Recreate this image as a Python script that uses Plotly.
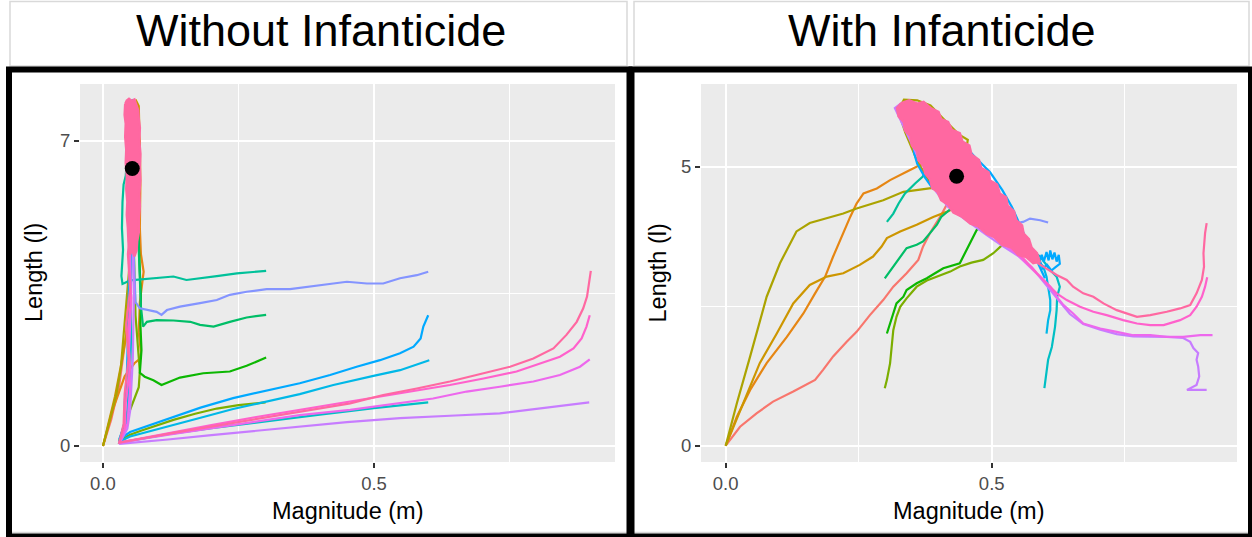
import plotly.graph_objects as go

W, H = 1252, 537

PANEL_TITLES = ["Without Infanticide", "With Infanticide"]
X_LABEL = "Magnitude (m)"
Y_LABEL = "Length (l)"

GROUP_COLORS = ["#F8766D", "#E68613", "#CD9600", "#ABA300", "#7CAE00", "#0CB702",
                "#00BE67", "#00C19A", "#00BFC4", "#00B8E7", "#00A9FF", "#8494FF",
                "#C77CFF", "#ED68ED", "#FF61CC", "#FF68A1"]

# ---------------- Without infanticide: trajectories (magnitude, length) ----------------
WO_01 = [(0, 0), (0.015, 0.6), (0.03, 1.4), (0.042, 2.5), (0.048, 3.6), (0.05, 4.6), (0.052, 5.8), (0.05, 7.0), (0.055, 7.8)]
WO_02 = [(0, 0), (0.02, 0.9), (0.04, 1.6), (0.058, 1.9), (0.068, 2.0), (0.07, 2.15), (0.066, 2.6), (0.068, 3.3),
         (0.072, 3.7), (0.075, 4.0), (0.07, 4.4), (0.068, 5.0), (0.069, 6.0), (0.068, 7.0), (0.063, 7.7)]
WO_03 = [(0, 0), (0.022, 1.13), (0.034, 1.9), (0.041, 2.43), (0.05, 3.05), (0.048, 3.6), (0.052, 4.4), (0.056, 5.5),
         (0.062, 6.5), (0.067, 7.3), (0.066, 7.8), (0.06, 7.95)]
WO_04 = [(0, 0), (0.012, 0.55), (0.025, 1.2), (0.033, 1.8), (0.038, 2.5), (0.042, 3.2), (0.046, 3.8), (0.052, 4.6),
         (0.058, 5.6), (0.062, 6.6), (0.064, 7.5)]
WO_05 = [(0.3, 1.0), (0.25, 0.94), (0.21, 0.86), (0.17, 0.74), (0.13, 0.6), (0.1, 0.48), (0.07, 0.35), (0.05, 0.26),
         (0.03, 0.12), (0.04, 0.5), (0.055, 1.0), (0.066, 1.35), (0.068, 1.7), (0.064, 2.3), (0.06, 3.0), (0.057, 4.5),
         (0.058, 6.0), (0.055, 7.5)]
WO_06 = [(0.301, 2.03), (0.265, 1.84), (0.234, 1.71), (0.185, 1.67), (0.142, 1.57), (0.108, 1.40), (0.093, 1.51),
         (0.077, 1.59), (0.068, 1.68), (0.071, 2.2), (0.069, 2.8), (0.07, 3.4), (0.068, 4.0), (0.066, 4.7), (0.064, 5.5),
         (0.063, 6.5), (0.06, 7.3)]
WO_07 = [(0.301, 3.01), (0.265, 2.95), (0.234, 2.85), (0.204, 2.74), (0.179, 2.78), (0.161, 2.85), (0.13, 2.88),
         (0.099, 2.89), (0.081, 2.85), (0.074, 2.74), (0.07, 3.2), (0.068, 3.8), (0.066, 4.5), (0.064, 5.5), (0.062, 6.5),
         (0.06, 7.4)]
WO_08 = [(0.301, 4.02), (0.247, 3.96), (0.21, 3.90), (0.154, 3.81), (0.13, 3.89), (0.099, 3.86), (0.074, 3.83),
         (0.05, 3.8), (0.036, 3.72), (0.034, 3.9), (0.037, 4.5), (0.035, 5.0), (0.036, 5.6), (0.038, 6.0), (0.042, 6.2),
         (0.046, 7.0), (0.05, 7.6)]
WO_09 = [(0.6, 1.0), (0.5, 0.87), (0.4, 0.72), (0.3, 0.57), (0.2, 0.41), (0.12, 0.27), (0.07, 0.17), (0.03, 0.08),
         (0.045, 0.8), (0.05, 1.6), (0.052, 2.6), (0.05, 3.6), (0.055, 5.0), (0.055, 7.0)]
WO_10 = [(0.602, 1.97), (0.548, 1.74), (0.499, 1.61), (0.425, 1.40), (0.363, 1.19), (0.3, 1.02), (0.24, 0.85),
         (0.18, 0.65), (0.12, 0.45), (0.08, 0.32), (0.05, 0.22), (0.03, 0.1), (0.045, 0.6), (0.048, 1.4), (0.05, 2.5),
         (0.052, 4.0), (0.055, 6.0), (0.05, 7.5)]
WO_11 = [(0.6, 3.0), (0.591, 2.74), (0.586, 2.47), (0.573, 2.28), (0.548, 2.13), (0.511, 1.97), (0.468, 1.82),
         (0.419, 1.63), (0.363, 1.44), (0.3, 1.27), (0.24, 1.1), (0.18, 0.88), (0.12, 0.62), (0.08, 0.45), (0.05, 0.32),
         (0.03, 0.15), (0.04, 0.5), (0.04, 1.0), (0.044, 1.6), (0.046, 2.5), (0.048, 3.5), (0.05, 5.0), (0.052, 7.0),
         (0.054, 7.95), (0.058, 7.9)]
WO_12 = [(0.6, 4.0), (0.579, 3.92), (0.548, 3.85), (0.517, 3.73), (0.487, 3.73), (0.45, 3.77), (0.425, 3.73),
         (0.394, 3.68), (0.363, 3.63), (0.345, 3.6), (0.302, 3.6), (0.265, 3.54), (0.234, 3.47), (0.21, 3.35),
         (0.179, 3.28), (0.142, 3.2), (0.118, 3.12), (0.108, 3.01), (0.099, 3.08), (0.084, 3.12), (0.068, 3.16),
         (0.06, 3.3), (0.058, 4.0), (0.055, 5.0), (0.056, 6.5)]
WO_13 = [(0.897, 1.0), (0.8, 0.85), (0.732, 0.75), (0.65, 0.7), (0.548, 0.64), (0.45, 0.55), (0.363, 0.44),
         (0.28, 0.35), (0.2, 0.25), (0.12, 0.15), (0.07, 0.09), (0.03, 0.05), (0.045, 0.4), (0.05, 0.8), (0.055, 2.0),
         (0.057, 3.5), (0.054, 5.0), (0.05, 6.8)]
WO_14 = [(0.898, 1.99), (0.88, 1.82), (0.843, 1.63), (0.794, 1.48), (0.732, 1.36), (0.671, 1.25), (0.609, 1.09),
         (0.548, 0.98), (0.456, 0.83), (0.363, 0.71), (0.28, 0.56), (0.2, 0.42), (0.13, 0.28), (0.08, 0.18), (0.05, 0.12),
         (0.03, 0.07), (0.045, 0.5), (0.05, 1.3), (0.048, 2.2), (0.052, 3.3), (0.05, 4.5), (0.048, 5.5), (0.05, 6.8)]
WO_15 = [(0.898, 3.0), (0.892, 2.74), (0.883, 2.47), (0.868, 2.24), (0.843, 2.05), (0.806, 1.9), (0.763, 1.71),
         (0.702, 1.55), (0.64, 1.40), (0.548, 1.21), (0.456, 1.02), (0.363, 0.84), (0.28, 0.66), (0.2, 0.48), (0.13, 0.32),
         (0.08, 0.2), (0.05, 0.13), (0.03, 0.08), (0.04, 0.4), (0.042, 1.0), (0.05, 1.8), (0.046, 2.6), (0.052, 3.4),
         (0.048, 4.2), (0.055, 5.0), (0.05, 6.5)]
WO_16 = [(0.9, 4.02), (0.897, 3.73), (0.893, 3.43), (0.886, 3.16), (0.874, 2.85), (0.855, 2.55), (0.831, 2.24),
         (0.794, 2.01), (0.751, 1.82), (0.702, 1.67), (0.64, 1.48), (0.579, 1.32), (0.517, 1.17), (0.456, 0.98),
         (0.363, 0.79), (0.28, 0.62), (0.2, 0.45), (0.13, 0.3), (0.08, 0.19), (0.05, 0.12), (0.03, 0.08), (0.038, 0.5),
         (0.04, 1.2), (0.047, 2.0), (0.043, 2.8), (0.05, 3.6), (0.046, 4.4), (0.05, 5.0)]
WO_CLOUD = [(0.041, 7.85), (0.044, 7.93), (0.048, 7.97), (0.053, 7.92), (0.058, 7.95), (0.062, 7.82), (0.065, 7.7),
            (0.066, 7.5), (0.068, 7.3), (0.067, 7.0), (0.069, 6.7), (0.068, 6.4), (0.069, 6.1), (0.067, 5.8),
            (0.068, 5.5), (0.066, 5.2), (0.066, 4.9), (0.063, 4.7), (0.062, 4.5), (0.058, 4.35), (0.054, 4.5),
            (0.05, 4.4), (0.047, 4.7), (0.046, 5.0), (0.044, 5.3), (0.045, 5.6), (0.043, 5.9), (0.044, 6.2),
            (0.042, 6.5), (0.043, 6.8), (0.041, 7.1), (0.042, 7.4), (0.04, 7.6)]
WO_EQ = (0.054, 6.37)

# ---------------- With infanticide ----------------
WI_01 = [(0, 0), (0.027, 0.34), (0.058, 0.58), (0.089, 0.79), (0.127, 0.97), (0.168, 1.18), (0.183, 1.36),
         (0.202, 1.60), (0.227, 1.86), (0.246, 2.04), (0.271, 2.34), (0.296, 2.61), (0.315, 2.85), (0.34, 3.09),
         (0.362, 3.33), (0.371, 3.57), (0.384, 3.81), (0.403, 4.10), (0.42, 4.4), (0.45, 4.8)]
WI_02 = [(0, 0), (0.021, 0.52), (0.046, 1.0), (0.077, 1.48), (0.115, 1.95), (0.146, 2.37), (0.168, 2.73),
         (0.187, 3.03), (0.202, 3.39), (0.218, 3.75), (0.234, 4.10), (0.246, 4.34), (0.259, 4.52), (0.284, 4.61),
         (0.309, 4.76), (0.34, 4.91), (0.365, 5.03), (0.40, 5.0)]
WI_03 = [(0, 0), (0.033, 0.76), (0.064, 1.48), (0.096, 2.01), (0.127, 2.55), (0.158, 2.88), (0.19, 3.03),
         (0.221, 3.09), (0.252, 3.24), (0.277, 3.39), (0.293, 3.57), (0.303, 3.72), (0.328, 3.84), (0.359, 3.96),
         (0.39, 4.10), (0.415, 4.19), (0.44, 4.3)]
WI_04 = [(0, 0), (0.021, 0.76), (0.046, 1.6), (0.077, 2.67), (0.102, 3.27), (0.133, 3.84), (0.158, 3.99),
         (0.19, 4.08), (0.221, 4.16), (0.246, 4.25), (0.296, 4.40), (0.334, 4.55), (0.37, 4.6), (0.39, 4.62),
         (0.36, 5.1), (0.338, 5.6), (0.324, 6.0), (0.335, 6.2), (0.36, 6.19), (0.385, 6.1), (0.41, 5.85),
         (0.438, 5.58), (0.455, 5.48), (0.452, 5.3), (0.465, 5.15)]
WI_05 = [(0.299, 1.03), (0.303, 1.18), (0.309, 1.48), (0.312, 1.72), (0.315, 2.07), (0.321, 2.31), (0.328, 2.49),
         (0.34, 2.64), (0.359, 2.85), (0.378, 2.96), (0.397, 3.03), (0.422, 3.12), (0.44, 3.21), (0.462, 3.28),
         (0.484, 3.33), (0.503, 3.45), (0.52, 3.6)]
WI_06 = [(0.303, 2.01), (0.309, 2.19), (0.315, 2.40), (0.321, 2.55), (0.334, 2.67), (0.34, 2.79), (0.359, 2.91),
         (0.378, 3.0), (0.395, 3.1), (0.409, 3.18), (0.44, 3.27), (0.453, 3.51), (0.465, 3.75), (0.472, 3.87), (0.49, 4.0)]
WI_07 = [(0.299, 3.0), (0.315, 3.21), (0.328, 3.36), (0.34, 3.54), (0.359, 3.60), (0.371, 3.66), (0.384, 3.81),
         (0.397, 3.96), (0.405, 4.10), (0.43, 4.3)]
WI_08 = [(0.303, 4.01), (0.315, 4.16), (0.325, 4.34), (0.337, 4.52), (0.356, 4.70), (0.37, 4.82), (0.378, 4.94),
         (0.40, 5.0)]
WI_09 = [(0.599, 1.03), (0.603, 1.30), (0.606, 1.54), (0.613, 1.77), (0.619, 2.13), (0.622, 2.43), (0.623, 2.67),
         (0.628, 2.85), (0.622, 3.03), (0.61, 3.15), (0.591, 3.39), (0.56, 3.6), (0.52, 4.0)]
WI_10 = [(0.603, 2.01), (0.606, 2.25), (0.61, 2.43), (0.61, 2.61), (0.606, 2.85), (0.603, 3.03), (0.597, 3.21),
         (0.57, 3.45), (0.53, 3.8)]
WI_11 = [(0.6, 3.0), (0.594, 3.12), (0.588, 3.25), (0.594, 3.42), (0.598, 3.3), (0.603, 3.47), (0.607, 3.32),
         (0.61, 3.5), (0.614, 3.34), (0.618, 3.46), (0.622, 3.3), (0.626, 3.42), (0.628, 3.26), (0.62, 3.2),
         (0.612, 3.14), (0.604, 3.24), (0.596, 3.18), (0.59, 3.32), (0.58, 3.42), (0.566, 3.68), (0.553, 3.95),
         (0.538, 4.28), (0.52, 4.58), (0.497, 4.9), (0.468, 5.18), (0.438, 5.5), (0.41, 5.78), (0.385, 5.95),
         (0.352, 5.7), (0.354, 5.25), (0.36, 5.05), (0.375, 4.8), (0.39, 4.6)]
WI_12 = [(0.606, 4.0), (0.591, 4.04), (0.572, 4.07), (0.559, 4.01), (0.547, 3.99), (0.534, 3.92), (0.51, 3.8)]
WI_13 = [(0.904, 1.0), (0.867, 1.0), (0.885, 1.09), (0.89, 1.24), (0.888, 1.42), (0.885, 1.54), (0.888, 1.66),
         (0.879, 1.75), (0.873, 1.86), (0.86, 1.93), (0.829, 1.95), (0.798, 1.95), (0.766, 1.96), (0.735, 2.0),
         (0.704, 2.08), (0.672, 2.18), (0.647, 2.36), (0.628, 2.58), (0.61, 2.79), (0.597, 2.95), (0.575, 3.2),
         (0.55, 3.4), (0.52, 3.58), (0.49, 3.78), (0.455, 4.02), (0.418, 4.28), (0.395, 4.56), (0.38, 4.86),
         (0.362, 5.16), (0.345, 5.5), (0.328, 5.82), (0.318, 6.05), (0.33, 6.14)]
WI_14 = [(0.915, 1.98), (0.892, 1.98), (0.86, 1.95), (0.829, 1.95), (0.798, 1.98), (0.766, 1.98), (0.735, 2.04),
         (0.704, 2.10), (0.672, 2.19), (0.653, 2.37), (0.635, 2.52), (0.622, 2.67), (0.61, 2.85), (0.591, 3.03),
         (0.572, 3.21), (0.545, 3.45), (0.51, 3.7), (0.48, 3.9)]
WI_15 = [(0.905, 3.02), (0.901, 2.85), (0.895, 2.67), (0.885, 2.49), (0.873, 2.34), (0.854, 2.25), (0.823, 2.16),
         (0.798, 2.16), (0.773, 2.19), (0.747, 2.25), (0.716, 2.34), (0.691, 2.40), (0.666, 2.49), (0.641, 2.61),
         (0.622, 2.73), (0.603, 2.91), (0.585, 3.09), (0.56, 3.35), (0.53, 3.6)]
WI_16 = [(0.904, 3.99), (0.901, 3.81), (0.898, 3.45), (0.899, 3.21), (0.895, 2.97), (0.885, 2.73), (0.873, 2.52),
         (0.854, 2.46), (0.829, 2.40), (0.798, 2.34), (0.773, 2.31), (0.754, 2.37), (0.735, 2.43), (0.71, 2.55),
         (0.691, 2.67), (0.672, 2.73), (0.653, 2.85), (0.641, 2.97), (0.622, 3.06), (0.597, 3.21), (0.572, 3.36),
         (0.55, 3.6)]
WI_CLOUD = [(0.33, 6.14), (0.345, 6.19), (0.36, 6.13), (0.372, 6.16), (0.385, 6.05), (0.40, 5.98), (0.405, 5.85),
            (0.418, 5.8), (0.425, 5.66), (0.44, 5.6), (0.445, 5.45), (0.458, 5.38), (0.462, 5.22), (0.476, 5.12),
            (0.48, 4.98), (0.494, 4.9), (0.497, 4.75), (0.51, 4.68), (0.515, 4.52), (0.527, 4.45), (0.53, 4.3),
            (0.542, 4.2), (0.546, 4.04), (0.557, 3.95), (0.56, 3.8), (0.57, 3.7), (0.575, 3.55), (0.585, 3.45),
            (0.59, 3.3), (0.578, 3.27), (0.565, 3.38), (0.55, 3.42), (0.538, 3.55), (0.52, 3.6), (0.505, 3.74),
            (0.49, 3.8), (0.475, 3.93), (0.46, 3.98), (0.445, 4.1), (0.428, 4.18), (0.418, 4.32), (0.405, 4.4),
            (0.398, 4.55), (0.388, 4.62), (0.384, 4.78), (0.375, 4.88), (0.372, 5.02), (0.362, 5.12), (0.36, 5.28),
            (0.35, 5.38), (0.347, 5.55), (0.337, 5.65), (0.335, 5.8), (0.325, 5.9), (0.322, 6.05)]
WI_EQ = (0.434, 4.83)

WO_TRAJ = [WO_01, WO_02, WO_03, WO_04, WO_05, WO_06, WO_07, WO_08,
           WO_09, WO_10, WO_11, WO_12, WO_13, WO_14, WO_15, WO_16]
WI_TRAJ = [WI_01, WI_02, WI_03, WI_04, WI_05, WI_06, WI_07, WI_08,
           WI_09, WI_10, WI_11, WI_12, WI_13, WI_14, WI_15, WI_16]

# ---------------- layout helpers ----------------
FONT = "Liberation Sans, Arial, sans-serif"


def px(x):
    return x / W


def py(y):
    return 1 - y / H


fig = go.Figure()

panels = [
    dict(traj=WO_TRAJ, cloud=WO_CLOUD, eq=WO_EQ, xa="x", ya="y"),
    dict(traj=WI_TRAJ, cloud=WI_CLOUD, eq=WI_EQ, xa="x2", ya="y2"),
]

for p in panels:
    for i, tr in enumerate(p["traj"]):
        fig.add_trace(go.Scatter(
            x=[a for a, b in tr], y=[b for a, b in tr], mode="lines",
            line=dict(color=GROUP_COLORS[i], width=2.2),
            xaxis=p["xa"], yaxis=p["ya"], showlegend=False, hoverinfo="skip"))
    cl = p["cloud"]
    fig.add_trace(go.Scatter(
        x=[a for a, b in cl] + [cl[0][0]], y=[b for a, b in cl] + [cl[0][1]],
        mode="lines", fill="toself", fillcolor=GROUP_COLORS[-1],
        line=dict(color=GROUP_COLORS[-1], width=2.5),
        xaxis=p["xa"], yaxis=p["ya"], showlegend=False, hoverinfo="skip"))
    fig.add_trace(go.Scatter(
        x=[p["eq"][0]], y=[p["eq"][1]], mode="markers",
        marker=dict(color="black", size=15),
        xaxis=p["xa"], yaxis=p["ya"], showlegend=False, hoverinfo="skip"))

ydom = [py(462), py(84)]
axis_common = dict(
    showgrid=True, gridcolor="white", gridwidth=2, zeroline=False, showline=False,
    ticks="outside", ticklen=5, tickwidth=1.5, tickcolor="#333333",
    tickfont=dict(family=FONT, size=18.5, color="#4D4D4D"),
)

fig.update_layout(
    width=W, height=H, autosize=False,
    margin=dict(l=0, r=0, t=0, b=0),
    paper_bgcolor="white", plot_bgcolor="#EBEBEB",
    xaxis=dict(domain=[px(80), px(615)], range=[-0.0424, 0.9446], tickvals=[0, 0.5], tickformat=".1f",
               minor=dict(tickvals=[0.25, 0.75], showgrid=True, gridcolor="white", gridwidth=1, ticks=""),
               anchor="y", **axis_common),
    yaxis=dict(domain=ydom, range=[-0.367, 8.308], tickvals=[0, 7],
               minor=dict(tickvals=[3.5], showgrid=True, gridcolor="white", gridwidth=1, ticks=""),
               anchor="x", **axis_common),
    xaxis2=dict(domain=[px(701), px(1237)], range=[-0.0464, 0.961], tickvals=[0, 0.5], tickformat=".1f",
                minor=dict(tickvals=[0.25, 0.75], showgrid=True, gridcolor="white", gridwidth=1, ticks=""),
                anchor="y2", **axis_common),
    yaxis2=dict(domain=ydom, range=[-0.292, 6.482], tickvals=[0, 5],
                minor=dict(tickvals=[2.5], showgrid=True, gridcolor="white", gridwidth=1, ticks=""),
                anchor="x2", **axis_common),
)

annotations = []
for title, cx in zip(PANEL_TITLES, [321, 942]):
    annotations.append(dict(text=title, x=px(cx), y=py(31), xref="paper", yref="paper",
                            xanchor="center", yanchor="middle", showarrow=False,
                            font=dict(family=FONT, size=45, color="black")))
for cx in [347.5, 969]:
    annotations.append(dict(text=X_LABEL, x=px(cx), y=py(511), xref="paper", yref="paper",
                            xanchor="center", yanchor="middle", showarrow=False,
                            font=dict(family=FONT, size=23.5, color="black")))
for cx in [34, 657.5]:
    annotations.append(dict(text=Y_LABEL, x=px(cx), y=py(273), xref="paper", yref="paper",
                            xanchor="center", yanchor="middle", showarrow=False, textangle=-90,
                            font=dict(family=FONT, size=23.5, color="black")))
fig.update_layout(annotations=annotations)

shapes = []
# light grey cell borders for the title strip
for x0, x1 in [(10, 627), (634, 1249)]:
    shapes.append(dict(type="rect", xref="paper", yref="paper", x0=px(x0), x1=px(x1), y0=py(66), y1=py(1.5),
                       line=dict(color="#D9D9D9", width=1.5)))
# light grey line just above the black bottom border
shapes.append(dict(type="line", xref="paper", yref="paper", x0=px(12), x1=px(1248), y0=py(532.5), y1=py(532.5),
                   line=dict(color="#D9D9D9", width=1.5)))
# thick black panel boxes
for x0, x1 in [(9, 629.5), (631.5, 1251)]:
    shapes.append(dict(type="rect", xref="paper", yref="paper", x0=px(x0), x1=px(x1), y0=py(536.5), y1=py(69.5),
                       line=dict(color="black", width=6)))
fig.update_layout(shapes=shapes)

fig.write_html("out.html")
